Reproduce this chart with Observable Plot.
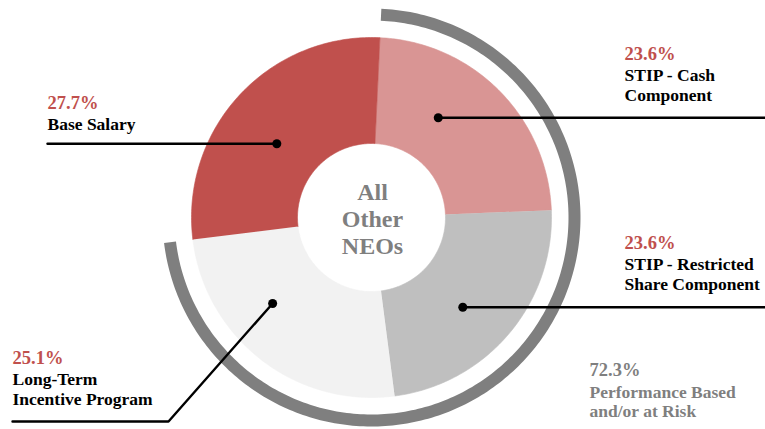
<!DOCTYPE html>
<html><head><meta charset="utf-8">
<script src="https://cdn.jsdelivr.net/npm/d3@7"></script>
<script src="https://cdn.jsdelivr.net/npm/@observablehq/plot@0.6"></script>
<style>body{margin:0;background:#fff}</style>
</head><body><div id="chart"></div>
<script>
// ---- data ----
const categories = ["STIP - Cash Component", "STIP - Restricted Share Component", "Long-Term Incentive Program", "Base Salary"];
const labelTexts = ["STIP - Cash\nComponent", "STIP - Restricted\nShare Component", "Long-Term\nIncentive Program", "Base Salary"];
const shares = [23.6, 23.6, 25.1, 27.7];
const pctLabels = ["23.6%", "23.6%", "25.1%", "27.7%"];
const sliceColors = ["#D99594", "#BFBFBF", "#F2F2F2", "#C0504D"];
const riskShare = 72.3;
const riskPct = "72.3%";
const riskText = "Performance Based\nand/or at Risk";
const centerText = "All\nOther\nNEOs";

// ---- layout ----
const W = 765, H = 429;
const cx = 371, cy = 217, R = 180, R0 = 74, ringIn = 197, ringOut = 209;
const rot = 2.7; // degrees, clockwise from 12 o'clock
const FONT = "Liberation Serif";
// annotation layout per category (leader dot angle/radius, label anchor)
const leaders = [
  {ang: 33.8, rad: 120, end: [[W, null]], tx: 624, ty: 59},
  {ang: 134.5, rad: 128, end: [[W, null]], tx: 624, ty: 248},
  {ang: 229, rad: 131, end: [[168, 421], [12, 421]], tx: 12, ty: 363},
  {ang: 307.9, rad: 120, end: [[47, null]], tx: 47, ty: 108}
];

const rad = d => d * Math.PI / 180;
const polar = (a, r) => [cx + r * Math.sin(rad(a)), cy - r * Math.cos(rad(a))];
function sector(a0, a1, r0, r1, key) {
  const pts = [];
  const n = Math.max(8, Math.ceil((a1 - a0) / 1));
  for (let i = 0; i <= n; i++) { const a = a0 + (a1 - a0) * i / n; const [x, y] = polar(a, r1); pts.push({key, x, y}); }
  for (let i = n; i >= 0; i--) { const a = a0 + (a1 - a0) * i / n; const [x, y] = polar(a, r0); pts.push({key, x, y}); }
  return pts;
}

const cum = d3.cumsum(shares);
const sliceMarks = categories.map((c, i) => {
  const a0 = rot + (cum[i] - shares[i]) * 3.6, a1 = rot + cum[i] * 3.6;
  return Plot.line(sector(a0, a1, R0, R, c), {x: "x", y: "y", fill: sliceColors[i], stroke: sliceColors[i], strokeWidth: 0.6});
});
const ringMark = Plot.line(sector(rot, rot + riskShare * 3.6, ringIn, ringOut, "risk"), {x: "x", y: "y", fill: "#7F7F7F", stroke: "none"});

const leaderPts = [], dots = [];
categories.forEach((c, i) => {
  const L = leaders[i];
  const [dx, dy] = polar(L.ang, L.rad);
  dots.push({x: dx, y: dy});
  leaderPts.push({key: c, x: dx, y: dy});
  L.end.forEach(([ex, ey]) => leaderPts.push({key: c, x: ex, y: ey == null ? dy : ey}));
});

const pctFs = 18.5, labFs = 17.5, lh = 20;
const pctRows = categories.map((c, i) => ({x: leaders[i].tx, y: leaders[i].ty - 0.71 * pctFs, t: pctLabels[i]}));
const labRows = categories.map((c, i) => ({x: leaders[i].tx, y: leaders[i].ty + 20 - 0.71 * labFs, t: labelTexts[i]}));

const plot = Plot.plot({
  width: W, height: H, margin: 0,
  x: {domain: [0, W], range: [0, W], axis: null},
  y: {domain: [0, H], range: [0, H], axis: null},
  style: {background: "white"},
  marks: [
    ...sliceMarks,
    ringMark,
    Plot.text([centerText], {x: [cx + 1], y: [cy + 1], text: d => d, fontFamily: FONT, fontWeight: "bold", fontSize: 24, lineHeight: 27 / 24, fill: "#7F7F7F", textAnchor: "middle", lineAnchor: "middle"}),
    Plot.line(leaderPts, {x: "x", y: "y", z: "key", stroke: "#000", strokeWidth: 2.4}),
    Plot.dot(dots, {x: "x", y: "y", r: 4.5, fill: "#000", stroke: "none"}),
    Plot.text(pctRows, {x: "x", y: "y", text: "t", fontFamily: FONT, fontWeight: "bold", fontSize: pctFs, fill: "#C0504D", textAnchor: "start", lineAnchor: "top"}),
    Plot.text(labRows, {x: "x", y: "y", text: "t", fontFamily: FONT, fontWeight: "bold", fontSize: labFs, lineHeight: lh / labFs, fill: "#000", textAnchor: "start", lineAnchor: "top"}),
    Plot.text([riskPct], {x: [589], y: [375 - 0.71 * pctFs], text: d => d, fontFamily: FONT, fontWeight: "bold", fontSize: pctFs, fill: "#7F7F7F", textAnchor: "start", lineAnchor: "top"}),
    Plot.text([riskText], {x: [589], y: [396 - 0.71 * labFs], text: d => d, fontFamily: FONT, fontWeight: "bold", fontSize: labFs, lineHeight: 19 / labFs, fill: "#7F7F7F", textAnchor: "start", lineAnchor: "top"})
  ]
});
document.getElementById("chart").appendChild(plot);
</script>
</body></html>
